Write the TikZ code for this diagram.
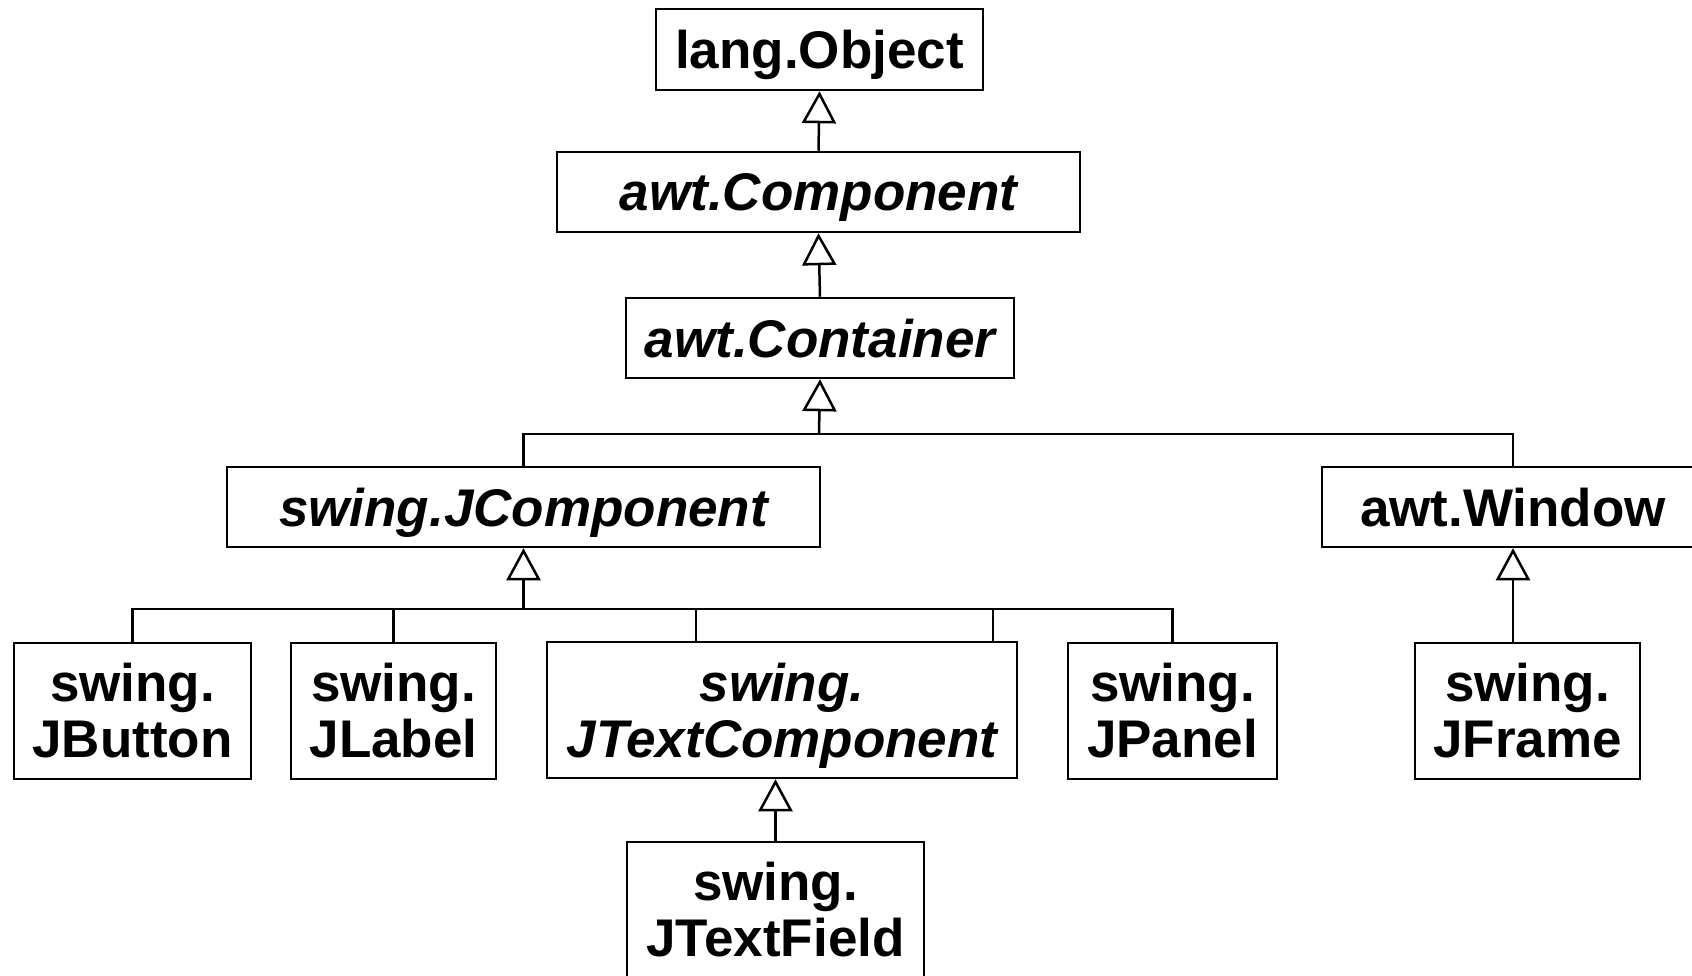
\documentclass[tikz,border=0pt]{standalone}
\usepackage{fontspec}
\setmainfont{Liberation Sans}
\usetikzlibrary{arrows.meta}

\begin{document}
\begin{tikzpicture}[x=1pt,y=-1pt,
  box/.style={draw,line width=2.5pt,inner sep=0pt,align=center,font=\fontsize{53}{56}\selectfont\bfseries},
  single/.style={box,text height=44pt,text depth=6pt},
  slanted/.style={font=\fontsize{53}{56}\selectfont\bfseries\itshape},
  inherit/.style={line width=2.5pt,-{Triangle[open,length=32pt,width=34pt]}},
  link/.style={line width=2.5pt}]
\useasboundingbox (0,0) rectangle (1692,976);

% Top of the hierarchy
\node[single,minimum width=327,minimum height=81] (obj) at (819.5,49.5) {lang.Object};
\node[single,slanted,minimum width=523,minimum height=80] (comp) at (818.5,192) {awt.Component};
\node[single,slanted,minimum width=388,minimum height=80] (cont) at (820,338) {awt.Container};
\draw[inherit] (comp.north) -- (obj.south);
\draw[inherit] (cont.north) -- (comp.south);

% Second level
\node[single,slanted,minimum width=593,minimum height=80] (jcomp) at (523.5,507) {swing.JComponent};
\node[single,minimum width=382,minimum height=80] (window) at (1513,507) {awt.Window};
\coordinate (bus1) at (819,434);
\draw[inherit] (bus1) -- (cont.south);
\draw[link] (jcomp.north) |- (bus1) -| (window.north);

% Swing components
\node[box,minimum width=237,minimum height=136] (jbutton) at (132.5,711) {swing.\\JButton};
\node[box,minimum width=205,minimum height=136] (jlabel) at (393.5,711) {swing.\\JLabel};
\node[box,slanted,text depth=0pt,minimum width=470,minimum height=136] (jtext) at (782,710) {swing.\\JTextComponent};
\node[box,minimum width=209,minimum height=136] (jpanel) at (1172.5,711) {swing.\\JPanel};
\node[box,minimum width=225,minimum height=136] (jframe) at (1527.5,711) {swing.\\JFrame};
\node[box,minimum width=297,minimum height=136] (jfield) at (775.5,910) {swing.\\JTextField};

\coordinate (bus2) at (523.5,609);
\coordinate (tleft) at (696,642);
\coordinate (tright) at (993,642);
\draw[inherit] (bus2) -- (jcomp.south);
\draw[link] (jbutton.north) |- (bus2) -| (jpanel.north);
\draw[link] (jlabel.north) -- (jlabel.north |- bus2);
\draw[link] (tleft) -- (tleft |- bus2);
\draw[link] (tright) -- (tright |- bus2);

\draw[inherit] (window.south |- jframe.north) -- (window.south);
\draw[inherit] (jfield.north) -- (jfield.north |- jtext.south);
\end{tikzpicture}
\end{document}
